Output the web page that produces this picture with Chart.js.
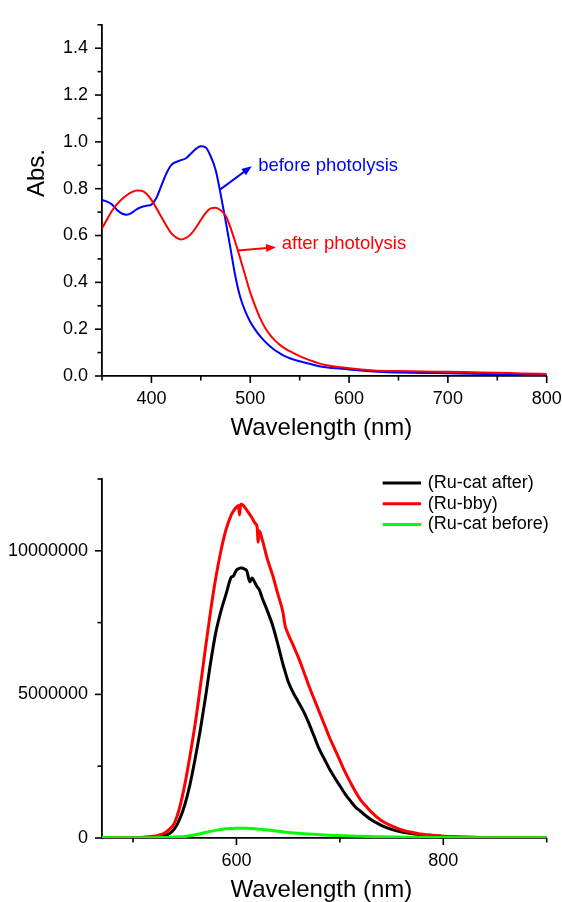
<!DOCTYPE html>
<html><head><meta charset="utf-8">
<script src="https://cdn.jsdelivr.net/npm/chart.js@4/dist/chart.umd.min.js"></script>
<style>
html,body{margin:0;padding:0;background:#fff;}
#wrap{position:relative;width:562px;height:902px;overflow:hidden;background:#fff;}
canvas{position:absolute;left:0;}
#c1{top:0;} #c2{top:445px;}
</style></head><body>
<div id="wrap"><canvas id="c1" width="562" height="445"></canvas><canvas id="c2" width="562" height="457"></canvas></div>
<script>
// ---------- Top chart: absorption ----------
const absWavelength = [350,355,360,365,370,375,380,385,390,395,400,405,410,415,420,425,430,435,440,445,450,455,460,465,470,475,480,485,490,495,500,505,510,515,520,525,530,535,540,550,560,575,600,625,650,675,700,725,750,775,800];
const absBefore = [0.752,0.745,0.733,0.710,0.694,0.689,0.697,0.712,0.722,0.727,0.732,0.760,0.812,0.864,0.901,0.914,0.922,0.930,0.950,0.970,0.981,0.976,0.938,0.880,0.778,0.665,0.545,0.425,0.335,0.276,0.232,0.198,0.170,0.147,0.127,0.110,0.097,0.085,0.076,0.063,0.052,0.038,0.028,0.019,0.015,0.013,0.012,0.010,0.007,0.005,0.003];
const absAfter = [0.630,0.668,0.705,0.733,0.755,0.772,0.785,0.792,0.791,0.778,0.752,0.717,0.680,0.643,0.610,0.592,0.583,0.590,0.606,0.633,0.666,0.697,0.716,0.719,0.708,0.685,0.634,0.570,0.500,0.428,0.357,0.298,0.247,0.206,0.176,0.152,0.133,0.118,0.106,0.085,0.068,0.048,0.033,0.024,0.021,0.019,0.018,0.016,0.014,0.011,0.009];
const absLabels = ['before photolysis','after photolysis'];
const absYMajor = [0,0.2,0.4,0.6,0.8,1.0,1.2,1.4];
const absYMinor = [0.1,0.3,0.5,0.7,0.9,1.1,1.3,1.5];
const absXMajor = [400,500,600,700,800];
const absXMinor = [350,450,550,650,750];
// annotation anchors in data units [x, y]
const beforeArrow = [[469.4,0.796],[501.5,0.896]];
const beforeTextAt = [508,0.896];
const afterArrow = [[487.3,0.536],[526.1,0.55]];
const afterTextAt = [531.9,0.564];

// ---------- Bottom chart: emission ----------
const plWavelength = [470,480,490,500,510,520,525,530,535,540,545,550,555,560,565,570,575,580,585,590,595,597,600,602,603,604,605,608,610,613,615,618,620,621,622,625,630,635,640,645,647,650,655,660,665,670,675,680,685,690,695,700,705,710,715,720,725,730,740,750,760,775,790,800,825,850,875,900];
const plRuCatAfter = [0,0,2000,5000,12000,30000,45000,75000,150000,320000,650000,1150000,1850000,2750000,3750000,4880000,6100000,7150000,7900000,8500000,9080000,9120000,9330000,9380000,9390000,9400000,9400000,9360000,9300000,8920000,9050000,8880000,8750000,8700000,8650000,8350000,7900000,7400000,6750000,6050000,5800000,5450000,5050000,4730000,4400000,4000000,3550000,3100000,2750000,2400000,2100000,1820000,1540000,1300000,1080000,930000,780000,640000,440000,300000,205000,125000,75000,52000,22000,10000,5000,3000];
const plRuBby = [0,0,5000,12000,30000,60000,100000,160000,300000,520000,1050000,1850000,2850000,3950000,5250000,6600000,7900000,9050000,10000000,10750000,11250000,11380000,11520000,11580000,11250000,11600000,11620000,11520000,11420000,11260000,11150000,10960000,10830000,10300000,10700000,10380000,9700000,9150000,8500000,7850000,7400000,7100000,6700000,6280000,5800000,5300000,4850000,4400000,3950000,3500000,3100000,2700000,2300000,1950000,1620000,1330000,1120000,920000,610000,420000,280000,160000,95000,65000,28000,13000,7000,4000];
const plRuCatBefore = [8000,8000,8000,9000,10000,13000,16000,20000,25000,32000,42000,55000,80000,110000,150000,190000,230000,265000,295000,318000,330000,334000,338000,340000,340000,340000,340000,338000,336000,332000,328000,320000,312000,309000,306000,298000,278000,258000,236000,215000,207000,195000,178000,163000,150000,138000,127000,117000,107000,98000,90000,83000,76000,70000,64000,59000,54000,50000,42000,35000,29000,22000,17000,14000,10000,8000,7000,6000];
const plLabels = ['(Ru-cat after)','(Ru-bby)','(Ru-cat before)'];
const plYMajor = [0,5000000,10000000];
const plYMinor = [2500000,7500000,12500000];
const plXMajor = [600,800];
const plXMinor = [500,700,900];

Chart.defaults.color = '#000';
Chart.defaults.font.family = "'Liberation Sans', Arial, sans-serif";
const FONT = "'Liberation Sans', Arial, sans-serif";

function pts(xs, ys){ return xs.map((x,i)=>({x:x, y:ys[i]})); }

function axisPlugin(cfg){
  return {
    id:'axisDeco',
    afterDraw(chart){
      const {ctx, chartArea:a, scales:{x,y}} = chart;
      ctx.save();
      ctx.strokeStyle='#000'; ctx.lineWidth=1.6;
      const seg=(x1,y1,x2,y2)=>{ctx.beginPath();ctx.moveTo(x1,y1);ctx.lineTo(x2,y2);ctx.stroke();};
      cfg.xMajor.forEach(v=>{const p=x.getPixelForValue(v); seg(p,a.bottom,p,a.bottom+7);});
      cfg.xMinor.forEach(v=>{const p=x.getPixelForValue(v); seg(p,a.bottom,p,a.bottom+4.5);});
      cfg.yMajor.forEach(v=>{const p=y.getPixelForValue(v); seg(a.left,p,a.left-7,p);});
      cfg.yMinor.forEach(v=>{const p=y.getPixelForValue(v); seg(a.left,p,a.left-4.5,p);});
      ctx.fillStyle='#000';
      ctx.font = '24px ' + FONT;
      ctx.textAlign='center'; ctx.textBaseline='middle';
      ctx.fillText(cfg.xTitle, (a.left+a.right)/2 - 3, a.bottom + cfg.xTitleOffset);
      if (cfg.yTitle){
        ctx.save();
        ctx.translate(cfg.yTitleX, cfg.yTitleY);
        ctx.rotate(-Math.PI/2);
        ctx.fillText(cfg.yTitle, 0, 0);
        ctx.restore();
      }
      ctx.restore();
    }
  };
}

function arrow(ctx, x1,y1,x2,y2,color){
  const ang=Math.atan2(y2-y1,x2-x1), L=10, W=4;
  ctx.strokeStyle=color; ctx.fillStyle=color; ctx.lineWidth=2;
  ctx.beginPath(); ctx.moveTo(x1,y1); ctx.lineTo(x2-Math.cos(ang)*L*0.6,y2-Math.sin(ang)*L*0.6); ctx.stroke();
  ctx.beginPath();
  ctx.moveTo(x2,y2);
  ctx.lineTo(x2-L*Math.cos(ang)+W*Math.sin(ang), y2-L*Math.sin(ang)-W*Math.cos(ang));
  ctx.lineTo(x2-L*Math.cos(ang)-W*Math.sin(ang), y2-L*Math.sin(ang)+W*Math.cos(ang));
  ctx.closePath(); ctx.fill();
}

const annotPlugin = {
  id:'annot',
  afterDatasetsDraw(chart){
    const {ctx, scales:{x,y}} = chart;
    const X=v=>x.getPixelForValue(v), Y=v=>y.getPixelForValue(v);
    const items=[[beforeArrow,beforeTextAt,absLabels[0],'#0000ff'],[afterArrow,afterTextAt,absLabels[1],'#ff0000']];
    ctx.save();
    items.forEach(([ar,tp,txt,col])=>{
      arrow(ctx, X(ar[0][0]),Y(ar[0][1]),X(ar[1][0]),Y(ar[1][1]),col);
      ctx.fillStyle=col; ctx.font='18.5px '+FONT; ctx.textAlign='left'; ctx.textBaseline='middle';
      ctx.fillText(txt, X(tp[0]), Y(tp[1]));
    });
    ctx.restore();
  }
};

const legendPlugin = {
  id:'customLegend',
  afterDraw(chart){
    const {ctx, chartArea:a} = chart;
    ctx.save();
    ctx.font='18px '+FONT; ctx.textAlign='left'; ctx.textBaseline='middle';
    chart.data.datasets.forEach((ds,i)=>{
      const yy = a.top + 4 + i*20.7;
      ctx.strokeStyle=ds.borderColor; ctx.lineWidth=3;
      ctx.beginPath(); ctx.moveTo(a.right-164, yy); ctx.lineTo(a.right-125.7, yy); ctx.stroke();
      ctx.fillStyle='#000'; ctx.fillText(ds.label, a.right-119, yy);
    });
    ctx.restore();
  }
};

function fixedTicks(vals){ return function(scale){ scale.ticks = vals.map(v=>({value:v})); }; }

new Chart(document.getElementById('c1'), {
  type:'line',
  data:{datasets:[
    {label:absLabels[1], data:pts(absWavelength,absAfter), borderColor:'#ff0000', borderWidth:2, pointRadius:0, cubicInterpolationMode:'monotone', fill:false, order:0},
    {label:absLabels[0], data:pts(absWavelength,absBefore), borderColor:'#0000ff', borderWidth:2, pointRadius:0, cubicInterpolationMode:'monotone', fill:false, order:1}
  ]},
  options:{
    responsive:false, animation:false, devicePixelRatio:1,
    layout:{padding:{left:0,right:15.3,top:15,bottom:0}},
    plugins:{legend:{display:false}, tooltip:{enabled:false}},
    scales:{
      x:{type:'linear', min:350, max:800,
        afterBuildTicks:fixedTicks(absXMajor),
        afterFit(s){ s.height=69; s.paddingLeft=0; s.paddingRight=0; },
        grid:{display:false, drawTicks:false}, border:{display:true, color:'#000', width:1.8},
        ticks:{font:{size:18}, padding:12.5, maxRotation:0, autoSkip:false}},
      y:{type:'linear', min:0, max:1.5,
        afterBuildTicks:fixedTicks(absYMajor),
        afterFit(s){ s.width=102; },
        grid:{display:false, drawTicks:false}, border:{display:true, color:'#000', width:1.8},
        ticks:{font:{size:18}, padding:14, autoSkip:false, callback:v=>Number(v).toFixed(1)}}
    }
  },
  plugins:[annotPlugin, axisPlugin({xMajor:absXMajor,xMinor:absXMinor,yMajor:absYMajor,yMinor:absYMinor,xTitle:'Wavelength (nm)',xTitleOffset:52,yTitle:'Abs.',yTitleX:37,yTitleY:173})]
});

new Chart(document.getElementById('c2'), {
  type:'line',
  data:{datasets:[
    {label:plLabels[0], data:pts(plWavelength,plRuCatAfter), borderColor:'#000000', borderWidth:3, pointRadius:0, cubicInterpolationMode:'monotone', fill:false, order:2},
    {label:plLabels[1], data:pts(plWavelength,plRuBby), borderColor:'#ff0000', borderWidth:3, pointRadius:0, cubicInterpolationMode:'monotone', fill:false, order:1},
    {label:plLabels[2], data:pts(plWavelength,plRuCatBefore), borderColor:'#00ff00', borderWidth:3, pointRadius:0, cubicInterpolationMode:'monotone', fill:false, order:0}
  ]},
  options:{
    responsive:false, animation:false, devicePixelRatio:1,
    layout:{padding:{left:0,right:15.3,top:34,bottom:0}},
    plugins:{legend:{display:false}, tooltip:{enabled:false}},
    scales:{
      x:{type:'linear', min:470, max:900,
        afterBuildTicks:fixedTicks(plXMajor),
        afterFit(s){ s.height=64; s.paddingLeft=0; s.paddingRight=0; },
        grid:{display:false, drawTicks:false}, border:{display:true, color:'#000', width:1.8},
        ticks:{font:{size:18}, padding:12.5, maxRotation:0, autoSkip:false}},
      y:{type:'linear', min:0, max:12500000,
        afterBuildTicks:fixedTicks(plYMajor),
        afterFit(s){ s.width=102; },
        grid:{display:false, drawTicks:false}, border:{display:true, color:'#000', width:1.8},
        ticks:{font:{size:18}, padding:14, autoSkip:false, callback:v=>String(v)}}
    }
  },
  plugins:[legendPlugin, axisPlugin({xMajor:plXMajor,xMinor:plXMinor,yMajor:plYMajor,yMinor:plYMinor,xTitle:'Wavelength (nm)',xTitleOffset:52})]
});
</script>
</body></html>
